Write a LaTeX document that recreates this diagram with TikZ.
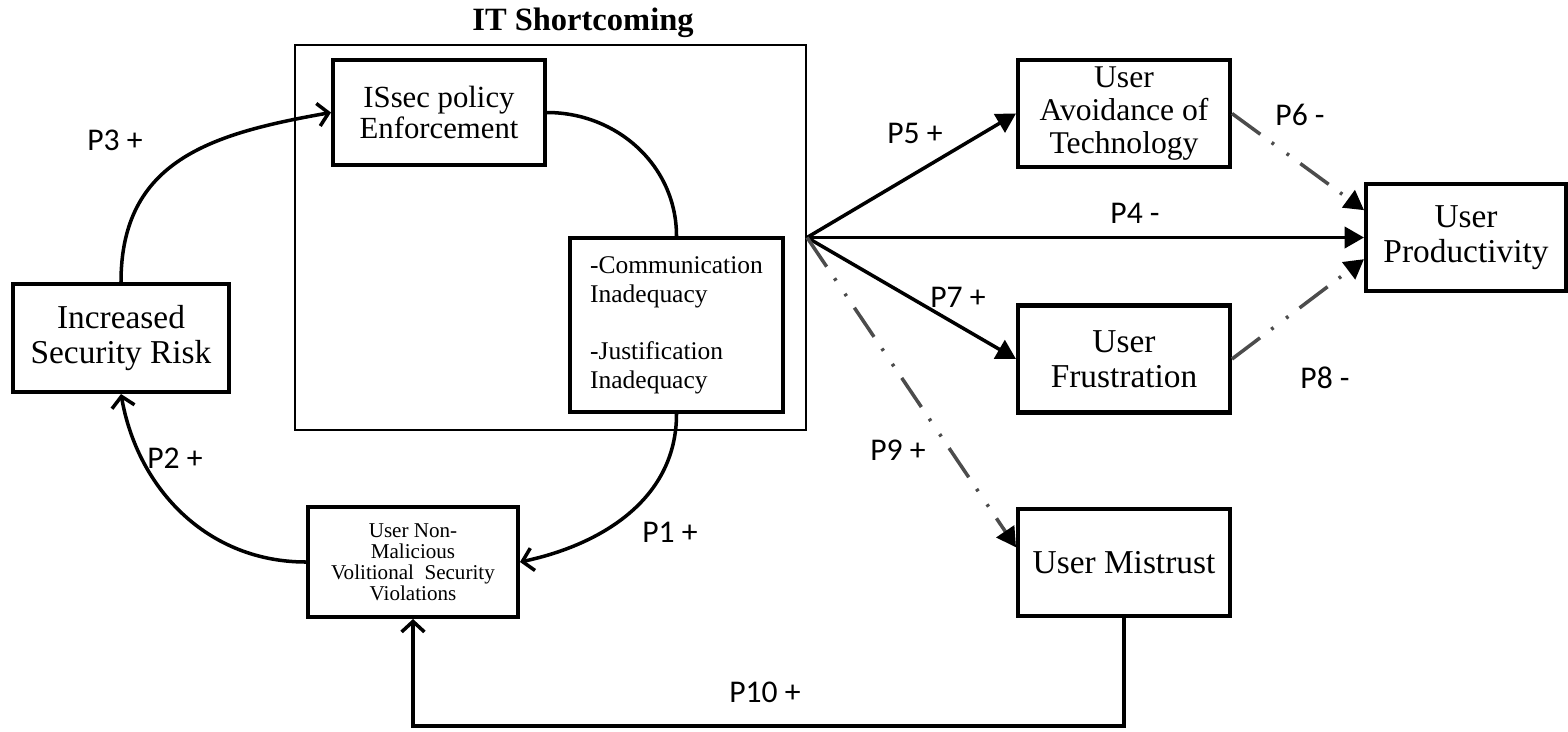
\documentclass[tikz,border=0pt]{standalone}
\usepackage{fontspec}
\setmainfont{Liberation Serif}
\newfontfamily\plabel{Carlito}
\usetikzlibrary{arrows.meta,positioning}

\begin{document}
\begin{tikzpicture}[x=0.02cm, y=-0.02cm, node distance={1.85cm},
    main/.style = {draw, line width=2.3pt, align=center, inner sep=1pt,
                   minimum width=4.24cm, minimum height=2.14cm,
                   font=\fontsize{19}{20}\selectfont},
    link/.style = {line width=2pt, -{Straight Barb[length=6pt,width=13pt,line width=2pt]}},
    fwd/.style  = {line width=2pt, -{Triangle[length=11pt,width=12pt]}},
    weak/.style = {line width=2pt, gray!60!black,
                   dash pattern=on 20pt off 8pt on 1.6pt off 9pt on 1.6pt off 8pt,
                   -{Triangle[length=11pt,width=12pt,color=black]}},
    prop/.style = {font=\plabel\fontsize{18}{18}\selectfont}]
    \useasboundingbox (0,0) rectangle (1568,731);

    \node[draw, line width=1.2pt, minimum width=10.22cm, minimum height=7.7cm] (0) at (550.5,237.5) {};
    \node[font=\bfseries\fontsize{18.5}{19}\selectfont] (t) at (583,23) {IT Shortcoming};

    \node[main, font=\fontsize{17.5}{17.8}\selectfont, minimum height=2.1cm] (1) at (439,112.5) {ISsec policy\\Enforcement};
    \node[main, align=left, minimum width=4.26cm, minimum height=3.48cm,
          font=\fontsize{14.5}{16.5}\selectfont] (2) at (676.5,325)
          {-Communication\\Inadequacy\\[16pt]-Justification\\Inadequacy\hspace*{14pt}};
    \node[main, minimum width=4.2cm, minimum height=2.2cm,
          font=\fontsize{12}{12}\selectfont] (3) at (413,562)
          {User Non-\\Malicious\\Volitional\ \ Security\\Violations};
    \node[main, minimum width=4.32cm, minimum height=2.16cm] (4) at (121,338) {Increased\\Security Risk};

    \node[main, font=\fontsize{18}{18.8}\selectfont, inner sep=0pt] (5) at (1124,113.5) {User\\Avoidance of\\Technology};
    \node[main, minimum width=4cm] (6) at (1466,237.5) {User\\Productivity};
    \node[main] (7) at (1124,359) {User\\Frustration};
    \node[main] (8) [below=of 7] {User Mistrust};
    \coordinate (b) at (0,726);

    % loop on the left
    \draw[link] (4.north) to[out=90, in=190, looseness=1.15] (1.west);
    \draw[line width=2pt] (1.east) to[out=0, in=90] (2.north);
    \draw[link] (2.south) to[out=-90, in=12] (3.east);
    \draw[link] (3.west) to[out=180, in=-80] (4.south);
    \draw[link] (8.south) -- (8.south |- b) -| (3.south);

    % outcomes on the right
    \draw[fwd] (0.east) -- (5.west);
    \draw[fwd] (0.east) -- (6.west);
    \draw[fwd] (0.east) -- (7.west);
    \draw[weak] (0.east) -- (8.172);
    \draw[weak] (5.east) -- (6.165);
    \draw[weak] (7.east) -- (6.192);

    \node[prop] (p1)  at (670,532)  {P1 +};
    \node[prop] (p2)  at (175,458)  {P2 +};
    \node[prop] (p3)  at (115,140)  {P3 +};
    \node[prop] (p4)  at (1135,213) {P4 -};
    \node[prop] (p5)  at (915,133)  {P5 +};
    \node[prop] (p6)  at (1300,115) {P6 -};
    \node[prop] (p7)  at (958,297)  {P7 +};
    \node[prop] (p8)  at (1325,378) {P8 -};
    \node[prop] (p9)  at (898,450)  {P9 +};
    \node[prop] (p10) at (765,692)  {P10 +};
\end{tikzpicture}
\end{document}
